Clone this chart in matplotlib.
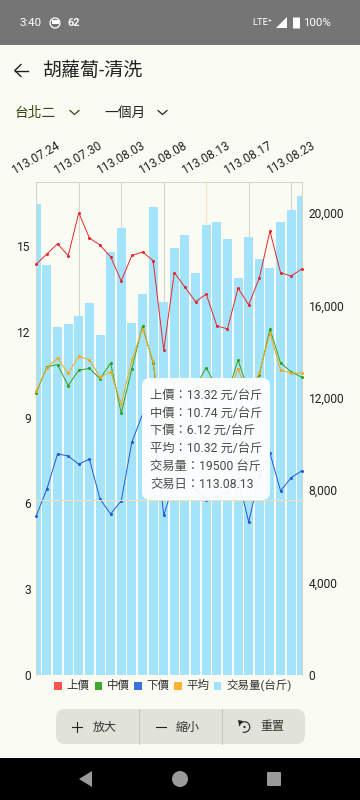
import matplotlib
matplotlib.use("Agg")
import matplotlib.pyplot as plt
from matplotlib.patches import Rectangle, FancyBboxPatch, Polygon, Circle, Arc

CJK = ['Roboto', 'Noto Sans CJK TC', 'DejaVu Sans']
plt.rcParams['font.family'] = CJK

dates = ['113.07.24', '', '', '', '113.07.30', '', '', '', '113.08.03', '', '', '', '113.08.08',
         '', '', '', '113.08.13', '', '', '', '113.08.17', '', '', '', '113.08.23', '']
high = [14.37, 14.72, 15.08, 14.66, 16.16, 15.28, 15.03, 14.62, 13.78, 14.67, 14.79, 14.49, 11.36,
        14.07, 13.56, 13.05, 13.32, 12.21, 12.10, 13.53, 12.94, 13.88, 15.52, 14.07, 13.95, 14.20]
mid = [9.87, 10.78, 10.85, 10.12, 10.66, 10.72, 10.36, 10.90, 9.15, 10.71, 12.20, 10.90, 8.22,
       10.24, 10.31, 10.10, 10.74, 10.07, 9.86, 11.01, 9.90, 10.49, 12.10, 10.91, 10.60, 10.41]
low = [5.57, 6.51, 7.73, 7.66, 7.37, 7.55, 6.15, 5.63, 6.09, 8.14, 9.12, 8.92, 5.59,
       6.75, 6.82, 6.47, 6.12, 6.26, 6.40, 6.89, 5.35, 6.96, 7.76, 6.44, 6.90, 7.14]
avg = [9.93, 10.74, 11.08, 10.55, 11.14, 11.02, 10.41, 10.60, 9.48, 11.01, 12.11, 10.98, 8.30,
       10.21, 10.28, 10.03, 10.32, 10.14, 9.79, 10.70, 9.79, 10.56, 11.96, 10.66, 10.56, 10.56]
volume = [20390, 17750, 15060, 15190, 15540, 16100, 14720, 18310, 19350, 15240, 16490, 20260, 16150,
          18480, 19050, 17400, 19500, 19610, 18870, 17190, 18960, 18010, 17620, 19610, 20130, 20740]
price_ticks = [0, 3, 6, 9, 12, 15]
volume_ticks = [0, 4000, 8000, 12000, 16000, 20000]
volume_tick_labels = ['0', '4,000', '8,000', '12,000', '16,000', '20,000']
series_names = ['上價', '中價', '下價', '平均', '交易量(台斤)']
tooltip_lines = ['上價：13.32 元/台斤', '中價：10.74 元/台斤', '下價：6.12 元/台斤',
                 '平均：10.32 元/台斤', '交易量：19500 台斤', '交易日：113.08.13']
selected_index = 16
selected_low = 6.12

BG = '#FAFBF2'
RED, GREEN, BLUE, ORANGE, SKY = '#E8272B', '#2FA31C', '#2458D8', '#F5A81C', '#A0E4FD'
GRID = '#D3D3CB'
CROSS = '#F6DDBB'
PX = 0.72

fig = plt.figure(figsize=(3.6, 8), dpi=100, facecolor=BG)
L, R, T, B = 36.3, 301.8, 181.8, 675.0
rect = [L / 360, 1 - B / 800, (R - L) / 360, (B - T) / 800]
axv = fig.add_axes(rect, facecolor='none', zorder=1)
ax = fig.add_axes(rect, facecolor='none', zorder=2)
xs = list(range(len(dates)))

# volume axis (right)
axv.set_xlim(0, len(dates) - 1)
axv.set_ylim(0, (B - T) / 0.0231)
for i, d in zip(xs, dates):
    if d and i != selected_index:
        axv.axvline(i, color=GRID, lw=0.75, zorder=0)
axv.axvline(selected_index, color=CROSS, lw=0.75, zorder=0)
axv.bar(xs, volume, width=0.85, color=SKY, alpha=0.97, zorder=1)
axv.yaxis.tick_right()
axv.set_yticks(volume_ticks, volume_tick_labels, fontsize=12 * PX, color='#222222')
axv.tick_params(axis='y', length=0, pad=5)
axv.set_xticks([])

# price axis (left)
ax.set_xlim(0, len(dates) - 1)
ax.set_ylim(0, (B - T) / 28.6)
for vals, c in ((high, RED), (mid, GREEN), (low, BLUE), (avg, ORANGE)):
    ax.plot(xs, vals, color=c, lw=0.7, marker='o', ms=2.2, mew=0, clip_on=False, zorder=3)
ax.axhline(selected_low, color=CROSS, lw=0.75, zorder=4)
ax.set_yticks(price_ticks, [str(v) for v in price_ticks], fontsize=12 * PX, color='#222222')
ax.tick_params(axis='y', length=0, pad=4)
tick_idx = [i for i, d in zip(xs, dates) if d]
ax.xaxis.tick_top()
ax.set_xticks(tick_idx, [dates[i] for i in tick_idx], rotation=30, ha='center', va='bottom',
              fontsize=12 * PX, color='#222222')
ax.tick_params(axis='x', length=0, pad=4)
for a in (ax, axv):
    for s in ('top', 'left', 'right'):
        a.spines[s].set_color(GRID)
        a.spines[s].set_linewidth(0.7)
    a.spines['bottom'].set_visible(False)

# overlay in pixel coordinates (screen chrome, tooltip, legend)
ov = fig.add_axes([0, 0, 1, 1], facecolor='none', zorder=5)
ov.set_xlim(0, 360)
ov.set_ylim(800, 0)
ov.axis('off')


def txt(x, y, s, size, color='#222222', ha='left', **kw):
    ov.text(x, y, s, fontsize=size * PX, color=color, ha=ha, va='center', **kw)


# status bar
ov.add_patch(Rectangle((0, 0), 360, 44.5, color='#757575', lw=0))
txt(19.5, 23, '3:40', 11.5, 'white')
ov.add_patch(Circle((55, 23), 5, fc='none', ec='white', lw=0.9))
ov.add_patch(Rectangle((51.5, 20), 7, 3.5, color='white', lw=0))
txt(68, 23, '62', 11, 'white', fontweight='bold')
txt(252.5, 22.5, 'LTE⁺', 9.5, 'white')
ov.add_patch(Polygon([(276, 28), (287, 28), (287, 17)], color='white', lw=0))
ov.add_patch(FancyBboxPatch((293.5, 18), 6, 10, boxstyle='round,pad=0.5', color='white', lw=0))
txt(303.5, 23, '100%', 11.5, 'white')

# header
ov.plot([15, 28], [70.5, 70.5], color='#222222', lw=1.0)
ov.plot([21, 14.8, 21], [64.5, 70.5, 76.5], color='#222222', lw=1.0)
txt(43, 71, '胡蘿蔔-清洗', 19, '#222222')
txt(15, 113, '台北二', 13.7, '#33490F')
ov.plot([70, 74.5, 79], [110.5, 114.5, 110.5], color='#2E4A10', lw=0.9)
txt(104, 113, '一個月', 13.7, '#222222')
ov.plot([158, 162.5, 167], [110.5, 114.5, 110.5], color='#222222', lw=0.9)

# tooltip
ov.add_patch(FancyBboxPatch((148, 384), 116, 110, boxstyle='round,pad=6,rounding_size=8',
                            fc='white', ec='none', alpha=0.94))
for i, line in enumerate(tooltip_lines):
    txt(150, 395 + i * 17.9, line, 12.3, '#4A4A4A')

# legend
legend_x = [54, 94.5, 134, 174, 213.5]
legend_c = ['#F2564F', '#3FAA2A', '#3C6FE0', '#F9B233', SKY]
for x, c, n in zip(legend_x, legend_c, series_names):
    ov.add_patch(Rectangle((x, 682), 7.5, 7.5, color=c, lw=0))
    txt(x + 12.5, 685.5, n, 11.5, '#333333')

# buttons
ov.add_patch(FancyBboxPatch((63, 716), 235, 21, boxstyle='round,pad=7,rounding_size=9',
                            fc='#E1E3D9', ec='none'))
for x in (138.7, 221.5):
    ov.plot([x, x], [709, 744], color='#C4C6B8', lw=0.7)
ov.plot([72, 82], [727, 727], color='#222222', lw=0.8)
ov.plot([77, 77], [722, 732], color='#222222', lw=0.8)
txt(93, 727, '放大', 12, '#333333')
ov.plot([156, 166], [727, 727], color='#222222', lw=0.8)
txt(176, 727, '縮小', 12, '#333333')
ov.add_patch(Arc((244.5, 727), 10.5, 10.5, theta1=-170, theta2=110, color='#222222', lw=0.8))
ov.add_patch(Polygon([(238, 720), (243, 721), (239, 725)], color='#222222', lw=0))
ov.add_patch(Circle((244.5, 727), 1.1, color='#222222', lw=0))
txt(260, 727, '重置', 12, '#333333')

# navigation bar
ov.add_patch(Rectangle((0, 758), 360, 42, color='black', lw=0))
GR = '#9A9A9A'
ov.add_patch(Polygon([(79, 779), (92, 771), (92, 787)], color=GR, lw=0))
ov.add_patch(Circle((180, 779), 8, color=GR, lw=0))
ov.add_patch(FancyBboxPatch((268, 773), 12, 12, boxstyle='round,pad=1', color=GR, lw=0))

fig.savefig('out.png', dpi=100, facecolor=BG)
